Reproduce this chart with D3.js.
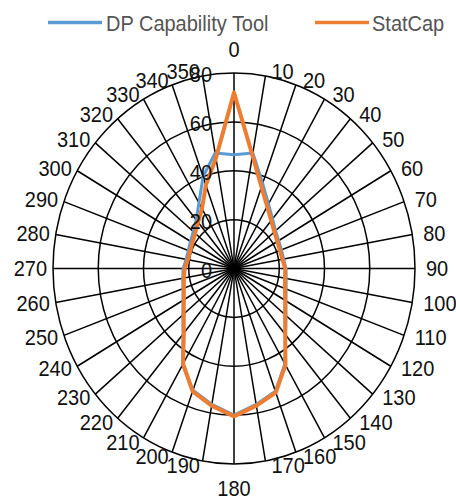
<!DOCTYPE html>
<html>
<head>
<meta charset="utf-8">
<script src="https://cdn.jsdelivr.net/npm/d3@7"></script>
<style>
  body { margin: 0; background: #fff; }
  svg { display: block; }
  text { font-family: "Liberation Sans", Arial, sans-serif; }
</style>
</head>
<body>
<div id="chart"></div>
<script>
// angle categories (degrees)
const angles = d3.range(0, 360, 10);
const angleLabels = angles.map(String);

// series values, one per angle
const dpValues = [46.5, 48, 37, 30.5, 26.5, 24, 22.8, 22.3, 22.3, 23, 23.4, 24.5,
  26.5, 30, 35.5, 45, 53.5, 56.5, 60, 56.5, 53, 45.5, 35, 29.5,
  26, 24, 23, 22.5, 21.5, 21.5, 22.2, 23.5, 26, 31, 40, 48];
const statCapValues = [72, 47, 35.5, 29.3, 25.6, 23.3, 22.1, 21.6, 21.7, 22.6, 22.9, 24,
  26.1, 29.5, 35.2, 45.5, 54, 57, 60.5, 57, 53.5, 45, 34.5, 29,
  25.6, 23.6, 22.5, 21.8, 20.7, 20.6, 21.2, 22.4, 24.7, 28.3, 36.3, 45.9];

const radialTicks = [0, 20, 40, 60, 80];
const seriesNames = ["DP Capability Tool", "StatCap"];
const seriesColors = ["#5b9bd5", "#ed7d31"];

const width = 456, height = 500;
const cx = 234, cy = 268.5;

const svg = d3.select("#chart").append("svg")
  .attr("width", width)
  .attr("height", height);

// picture is a bit taller than wide, so two radius scales
const rX = d3.scaleLinear().domain([0, 80]).range([0, 181]);
const rY = d3.scaleLinear().domain([0, 80]).range([0, 195.5]);
const theta = d3.scaleLinear().domain([0, 360]).range([0, 2 * Math.PI]);

const px = (a, v) => cx + rX(v) * Math.sin(theta(a));
const py = (a, v) => cy - rY(v) * Math.cos(theta(a));

const grid = svg.append("g");

// spokes
grid.selectAll(".spoke")
  .data(angles)
  .join("line")
  .attr("class", "spoke")
  .attr("x1", cx).attr("y1", cy)
  .attr("x2", a => px(a, 80))
  .attr("y2", a => py(a, 80))
  .attr("stroke", "#000")
  .attr("stroke-width", 1.5);

// rings
grid.selectAll(".ring")
  .data(radialTicks.slice(1))
  .join("ellipse")
  .attr("class", "ring")
  .attr("cx", cx).attr("cy", cy)
  .attr("rx", d => rX(d))
  .attr("ry", d => rY(d))
  .attr("fill", "none")
  .attr("stroke", "#000")
  .attr("stroke-width", 1.5);

// series lines
const line = d3.line()
  .x(d => px(d.a, d.v))
  .y(d => py(d.a, d.v))
  .curve(d3.curveLinearClosed);

[dpValues, statCapValues].forEach((vals, i) => {
  svg.append("path")
    .datum(angles.map((a, j) => ({ a: a, v: vals[j] })))
    .attr("d", line)
    .attr("fill", "none")
    .attr("stroke", seriesColors[i])
    .attr("stroke-width", i === 0 ? 3 : 4)
    .attr("stroke-linejoin", "round");
});

// text helper, slightly stretched vertically like the picture
function label(g, x, y, txt, anchor, fill) {
  g.append("text")
    .attr("transform", `translate(${x},${y}) scale(1,1.08)`)
    .attr("text-anchor", anchor)
    .attr("font-size", 20)
    .attr("fill", fill)
    .text(txt);
}

// angle labels
const lab = svg.append("g");
angles.forEach((a, i) => {
  const s = Math.sin(theta(a)), c = Math.cos(theta(a));
  const x0 = px(a, 80), y0 = py(a, 80);
  if (a === 0) {
    label(lab, x0, y0 - 16, angleLabels[i], "middle", "#111");
  } else if (a === 180) {
    label(lab, x0, y0 + 32, angleLabels[i], "middle", "#111");
  } else if (s > 0) {
    label(lab, x0 + 5 + 6 * s, y0 - 5 * c + 7.5, angleLabels[i], "start", "#111");
  } else {
    label(lab, x0 - 2 - 4 * Math.abs(s), y0 - 5 * c + 7.5, angleLabels[i], "end", "#111");
  }
});

// radial value labels along the 0 axis
radialTicks.forEach(t => {
  label(lab, cx - 22, cy - rY(t) + 9, String(t), "end", "#111");
});

// legend
const legend = svg.append("g");
const legendX = [48, 315];
const legendTextX = [106, 372];
seriesNames.forEach((name, i) => {
  legend.append("line")
    .attr("x1", legendX[i]).attr("x2", legendX[i] + 54)
    .attr("y1", 22.5).attr("y2", 22.5)
    .attr("stroke", seriesColors[i])
    .attr("stroke-width", 3.5);
  label(legend, legendTextX[i], 31, name, "start", "#555");
});
</script>
</body>
</html>
